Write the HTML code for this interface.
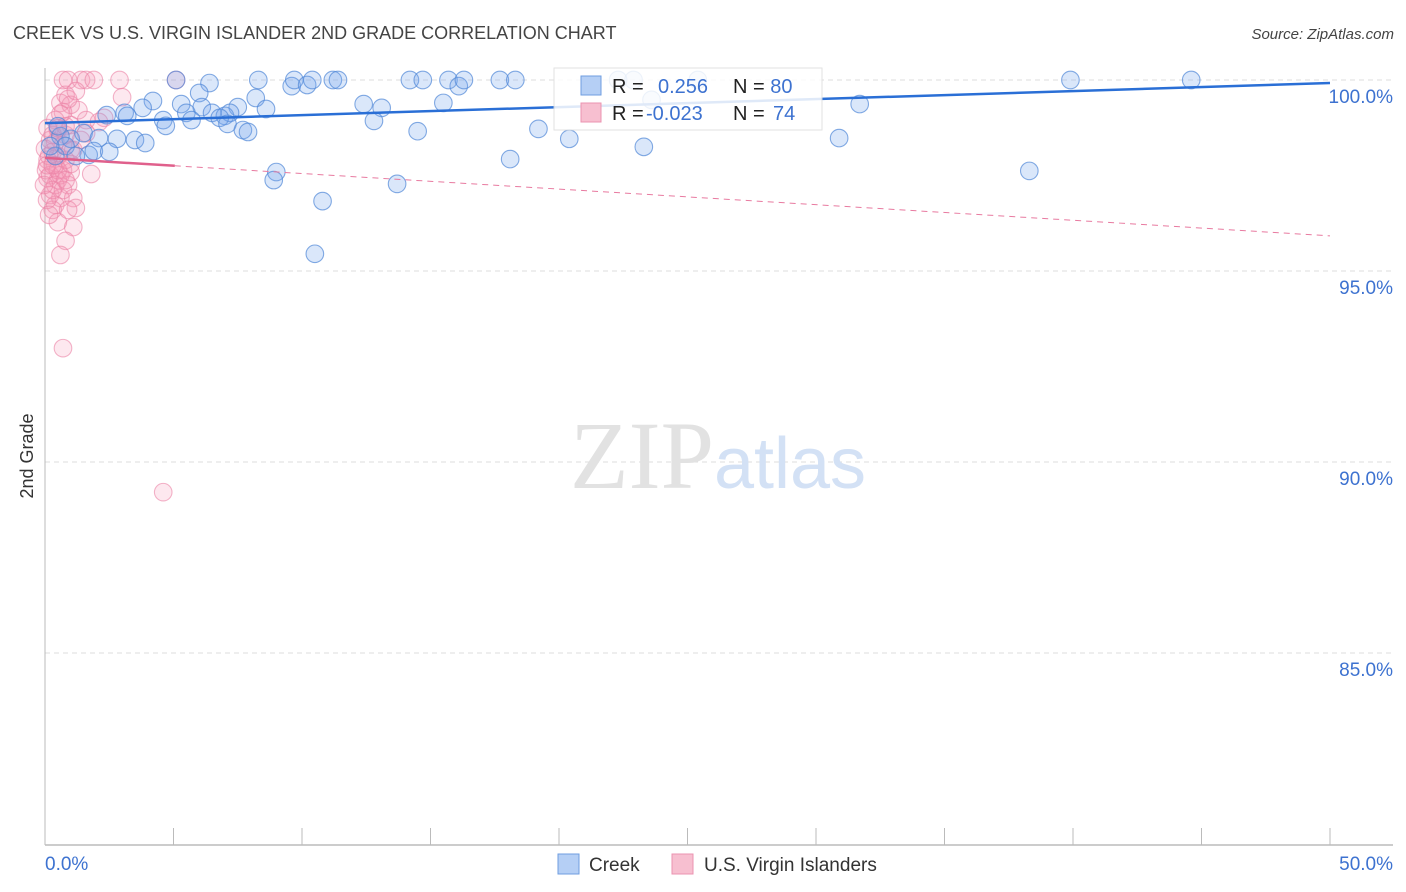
<!DOCTYPE html>
<html><head><meta charset="utf-8"><style>
body{margin:0;background:#fff;font-family:"Liberation Sans",sans-serif}
svg{display:block}
</style></head><body>
<svg id="chart" width="1406" height="892" viewBox="0 0 1406 892" xmlns="http://www.w3.org/2000/svg">
<text x="13" y="39" font-size="18" fill="#444">CREEK VS U.S. VIRGIN ISLANDER 2ND GRADE CORRELATION CHART</text>
<text x="1394" y="39" font-size="15" font-style="italic" fill="#444" text-anchor="end">Source: ZipAtlas.com</text>
<text transform="translate(33,456) rotate(-90)" font-size="18" fill="#333" text-anchor="middle">2nd Grade</text>
<g id="grid"></g>
<text x="718" y="488" font-size="96" text-anchor="middle"><tspan fill="#e2e2e2" font-family="Liberation Serif">ZIP</tspan><tspan fill="#d3e1f5" font-size="72">atlas</tspan></text>
<g id="marks"></g>
<g>
<rect x="554" y="68" width="268" height="62" fill="#fff" stroke="#ddd" opacity="0.85"/>
<rect x="581" y="76" width="20" height="19" fill="#b5cff5" stroke="#6f9ee0"/>
<rect x="581" y="103" width="20" height="19" fill="#f7bfd0" stroke="#eb93b0"/>
<text x="612" y="93" font-size="20" fill="#222">R = <tspan fill="#3d72d0" x="658">0.256</tspan><tspan x="733">N = </tspan><tspan fill="#3d72d0">80</tspan></text>
<text x="612" y="120" font-size="20" fill="#222">R = <tspan fill="#3d72d0" x="646">-0.023</tspan><tspan x="733">N = </tspan><tspan fill="#3d72d0" x="773">74</tspan></text>
</g>
<g>
<rect x="558" y="854" width="21" height="20" fill="#b5cff5" stroke="#6f9ee0"/>
<text x="589" y="871" font-size="19" fill="#333">Creek</text>
<rect x="672" y="854" width="21" height="20" fill="#f7bfd0" stroke="#eb93b0"/>
<text x="704" y="871" font-size="19" fill="#333">U.S. Virgin Islanders</text>
</g>
</svg>
<script>
const xTicks=[0,5,10,15,20,25,30,35,40,45,50];
const yTicks=[100,95,90,85];
const yTickLabels=["100.0%","95.0%","90.0%","85.0%"];
const xEndLabels=["0.0%","50.0%"];
const creekX=[5.1,6.4,8.3,9.6,9.7,10.2,10.4,11.2,11.4,14.2,14.7,15.7,16.1,16.3,17.7,18.3,22.3,22.9,25.4,39.9,44.6,4.2,3.8,5.3,6.0,6.1,7.5,8.2,8.6,5.5,6.5,7.0,7.2,12.4,13.1,15.5,31.7,23.6,3.1,2.4,3.2,4.6,4.7,5.7,6.8,7.1,7.7,7.9,12.8,14.5,19.2,20.4,23.3,30.9,18.1,1.0,1.5,2.1,2.8,3.5,3.9,1.7,1.9,2.5,9.0,8.9,13.7,10.8,38.3,10.5,0.6,0.8,0.4,1.2,0.2,0.5];
const creekY=[100,99.92,100,99.84,100,99.87,100,100,100,100,100,100,99.84,100,100,100,100,100,100,100,100,99.45,99.27,99.37,99.66,99.29,99.29,99.53,99.24,99.14,99.14,99.06,99.14,99.37,99.27,99.40,99.37,99.48,99.14,99.08,99.06,98.95,98.80,98.95,99.01,98.85,98.69,98.64,98.93,98.66,98.72,98.46,98.25,98.48,97.93,98.46,98.61,98.48,98.46,98.43,98.35,98.04,98.14,98.12,97.59,97.38,97.28,96.83,97.62,95.45,98.53,98.27,98.01,98.01,98.27,98.79];
const viX=[0.7,0.9,1.4,1.6,1.9,2.9,5.1,3.0,0.8,0.6,1.0,1.3,0.7,0.4,1.0,1.6,0.5,0.8,0.2,0.7,1.1,0.3,0.1,0.4,0.7,1.0,1.8,0.1,0.5,0.9,0.2,0.6,1.1,0.4,0.3,1.2,0.5,1.1,0.8,0.6,0.7,4.6,2.3,2.1,0.1,0.3,0.5,0.04,0.2,0.6,0.8,1.0,0.4,0.7,0.08,0.3,0.9,0,0.16,0.4,0.6,0.9,1.2,1.4,1.6,0.5,0.8,0.08,0.3,1.0,0.5,0.8,-0.04,0.16];
const viY=[100,100,100,100,100,100,100,99.55,99.61,99.40,99.35,99.21,99.16,98.95,98.82,98.95,98.69,98.56,98.43,98.30,98.17,98.12,97.91,97.77,97.64,97.59,97.54,97.43,97.38,97.25,96.99,96.91,96.91,96.73,96.60,96.65,96.28,96.15,95.79,95.42,92.98,89.21,99.01,98.90,98.74,98.56,98.01,97.64,97.51,97.51,97.91,98.17,97.25,97.12,96.86,97.12,96.60,98.20,98.01,98.37,99.11,99.50,99.71,98.43,98.61,97.64,97.38,97.77,97.77,97.80,98.74,98.79,97.25,96.47];
const creekLine=[98.87,99.92];
const viLine=[97.96,95.92];
const viSolidEnd=5.05;
const NS="http://www.w3.org/2000/svg";
const X=v=>45+v/50*1285;
const Y=v=>80+(100-v)/5*191;
function mk(t,a,p){const e=document.createElementNS(NS,t);for(const k in a)e.setAttribute(k,a[k]);p.appendChild(e);return e;}
const grid=document.getElementById('grid'),marks=document.getElementById('marks');
yTicks.forEach((t,i)=>{
 const l=mk('line',{x1:45,x2:1393,y1:Y(t),y2:Y(t),stroke:'#ddd','stroke-dasharray':'5,4'},grid);
 
 
 const tx=mk('text',{x:1393,y:Y(t)+23,'font-size':19,fill:'#3d72d0','text-anchor':'end'},grid);
 tx.textContent=yTickLabels[i];
 
 
});
const ax=mk('line',{x1:45,x2:1393,y1:845,y2:845,stroke:'#bbb','stroke-width':1.5},grid);


const ay=mk('line',{x1:45,x2:45,y1:68,y2:845,stroke:'#bbb'},grid);


xTicks.forEach(t=>{
 const l=mk('line',{x1:X(t),x2:X(t),y1:828,y2:845,stroke:'#bbb'},grid);
 
 
});
[[0,'start'],[50,'end']].forEach((d,i)=>{
 const tx=mk('text',{x:i?1393:45,y:870,'font-size':19,fill:'#3d72d0','text-anchor':d[1]},grid);
 tx.textContent=xEndLabels[i];
 
 
});
viX.forEach((x,i)=>{
 const c=mk('circle',{cx:X(x),cy:Y(viY[i]),r:8.8,fill:'rgba(244,150,180,0.22)',stroke:'rgba(235,130,165,0.6)','stroke-width':1.1},marks);
 
 
});
creekX.forEach((x,i)=>{
 const c=mk('circle',{cx:X(x),cy:Y(creekY[i]),r:8.8,fill:'rgba(120,165,235,0.27)',stroke:'rgba(80,135,215,0.7)','stroke-width':1.1},marks);
 
 
});
const vy=x=>viLine[0]+(viLine[1]-viLine[0])*x/50;
const l1=mk('line',{x1:X(viSolidEnd),y1:Y(vy(viSolidEnd)),x2:X(50),y2:Y(viLine[1]),stroke:'#e87aa0','stroke-width':1,'stroke-dasharray':'6,5'},marks);


const l2=mk('line',{x1:X(0),y1:Y(viLine[0]),x2:X(viSolidEnd),y2:Y(vy(viSolidEnd)),stroke:'#e0608c','stroke-width':2.5},marks);


const l3=mk('line',{x1:X(0),y1:Y(creekLine[0]),x2:X(50),y2:Y(creekLine[1]),stroke:'#2a6fd6','stroke-width':2.5},marks);


</script>
</body></html>
